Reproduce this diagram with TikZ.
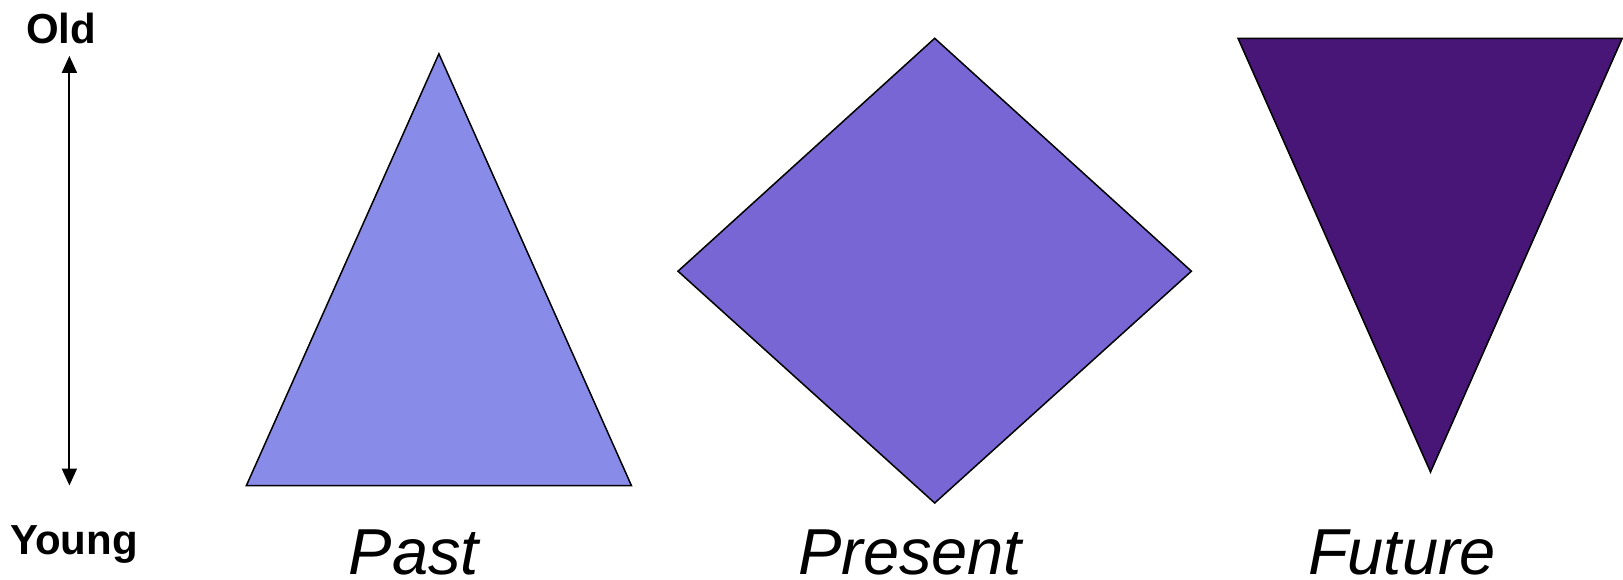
\documentclass[tikz,border=0pt]{standalone}
\usepackage{fontspec}
\setmainfont{Liberation Sans}
\usetikzlibrary{arrows.meta}
\definecolor{pastcol}{HTML}{898BE9}
\definecolor{presentcol}{HTML}{7766D3}
\definecolor{futurecol}{HTML}{481676}
\tikzset{
  shapeline/.style={draw=black, line width=1.5pt, line join=miter},
  era/.style={font=\fontsize{65}{70}\selectfont\itshape, anchor=base, inner sep=0pt},
  axislabel/.style={font=\fontsize{42}{46}\selectfont\bfseries, anchor=base, inner sep=0pt},
  axisarrow/.style={line width=2pt, {Triangle[width=15pt,length=17pt]}-{Triangle[width=15pt,length=17pt]}}
}
\begin{document}
\begin{tikzpicture}[x=1pt,y=-1pt]
\useasboundingbox (0,0) rectangle (1623,580);
% shapes
\filldraw[shapeline, fill=pastcol] (438.9,53.8) -- (631.4,485.5) -- (246.4,485.5) -- cycle;
\filldraw[shapeline, fill=presentcol] (934.7,38.3) -- (1191.4,271.2) -- (934.7,503) -- (678,271.2) -- cycle;
\filldraw[shapeline, fill=futurecol] (1238,38.3) -- (1622.2,38.3) -- (1430.5,472) -- cycle;
% labels
\node[era] (past) at (414,574.5) {Past};
\node[era] (present) at (910,574.5) {Present};
\node[era] (future) at (1402,574.5) {Future};
% axis
\node[axislabel] (old) at (61,43.5) {Old};
\node[axislabel] (young) at (74,554) {Young};
\coordinate (atop) at (69.4,55.9);
\coordinate (abot) at (69.4,485.5);
\draw[axisarrow] (atop) -- (abot);
\end{tikzpicture}
\end{document}
